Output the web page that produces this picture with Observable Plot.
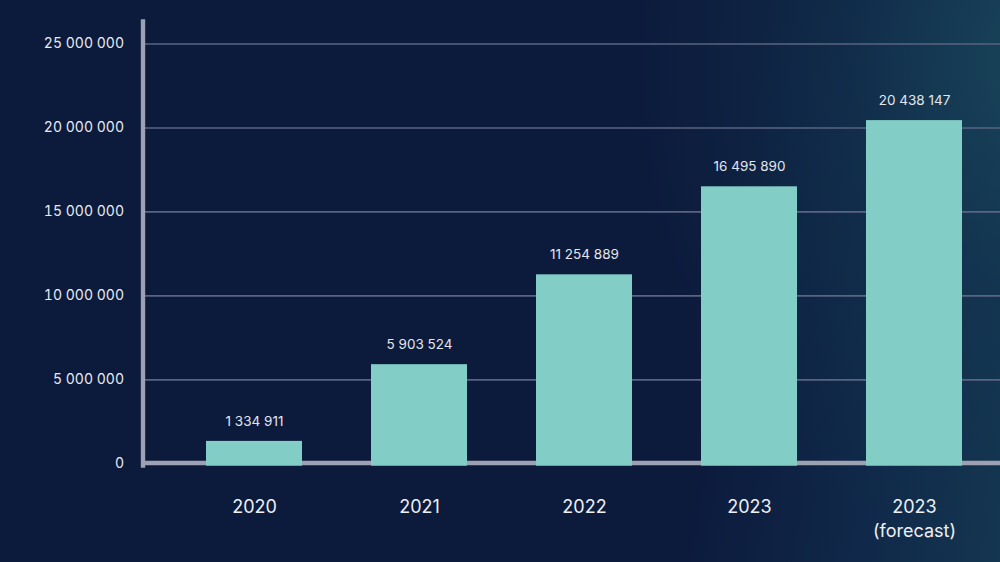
<!DOCTYPE html>
<html>
<head>
<meta charset="utf-8">
<script src="https://cdn.jsdelivr.net/npm/d3@7"></script>
<script src="https://cdn.jsdelivr.net/npm/@observablehq/plot@0.6"></script>
<style>
  html, body { margin: 0; padding: 0; }
  body {
    width: 1000px; height: 562px; overflow: hidden;
    background:
      radial-gradient(ellipse 420px 520px at 1040px 60px, rgba(26,72,92,0.85) 0%, rgba(20,56,82,0.5) 45%, rgba(12,26,60,0) 100%),
      linear-gradient(100deg, #0c1a3c 0%, #0c1a3c 70%, #10294a 88%, #143650 100%);
  }
  #chart svg { display: block; }
</style>
</head>
<body>
<div id="chart"></div>
<script>
const categories = ["2020", "2021", "2022", "2023", "2023\n(forecast)"];
const values = [1334911, 5903524, 11254889, 16495890, 20438147];
const yTicks = [0, 5000000, 10000000, 15000000, 20000000, 25000000];

const data = categories.map((c, i) => ({ category: c, value: values[i] }));
const fmt = d => d3.format(",")(d).replace(/,/g, " ");

const chart = Plot.plot({
  width: 1000,
  height: 562,
  marginLeft: 142.5,
  marginRight: 0,
  marginTop: 21,
  marginBottom: 97,
  style: { background: "transparent", fontFamily: "Inter, 'Noto Sans', sans-serif", color: "#e8ebf2", overflow: "visible" },
  x: { domain: categories, range: [170, 997], paddingInner: 0.42, paddingOuter: 0.21, axis: null, label: null },
  y: { domain: [0, 25000000], range: [463.3, 43.5], axis: null, label: null },
  marks: [
    Plot.ruleY(yTicks.filter(d => d > 0), { stroke: "#5a6382", strokeWidth: 1.6 }),
    Plot.ruleY([0], { stroke: "#9da2b3", strokeWidth: 4.6, dy: -0.8 }),
    Plot.frame({ anchor: "left", stroke: "#9da2b3", strokeWidth: 4.4 }),
    Plot.barY(data, { x: "category", y: "value", fill: "#82cdc6", insetBottom: -2.4 }),
    Plot.axisY({ ticks: yTicks, tickSize: 0, tickPadding: 19, tickFormat: fmt, fontSize: 14, fill: "#e8ebf2", label: null }),
    Plot.axisX({ tickSize: 0, tickPadding: 31, fontSize: 18, lineHeight: 1.3, fill: "#eef0f5", label: null }),
    Plot.text(data, { x: "category", y: "value", text: d => fmt(d.value), dy: -20, fontSize: 13.5, fill: "#e3e6ee" })
  ]
});
document.getElementById("chart").appendChild(chart);
</script>
</body>
</html>
